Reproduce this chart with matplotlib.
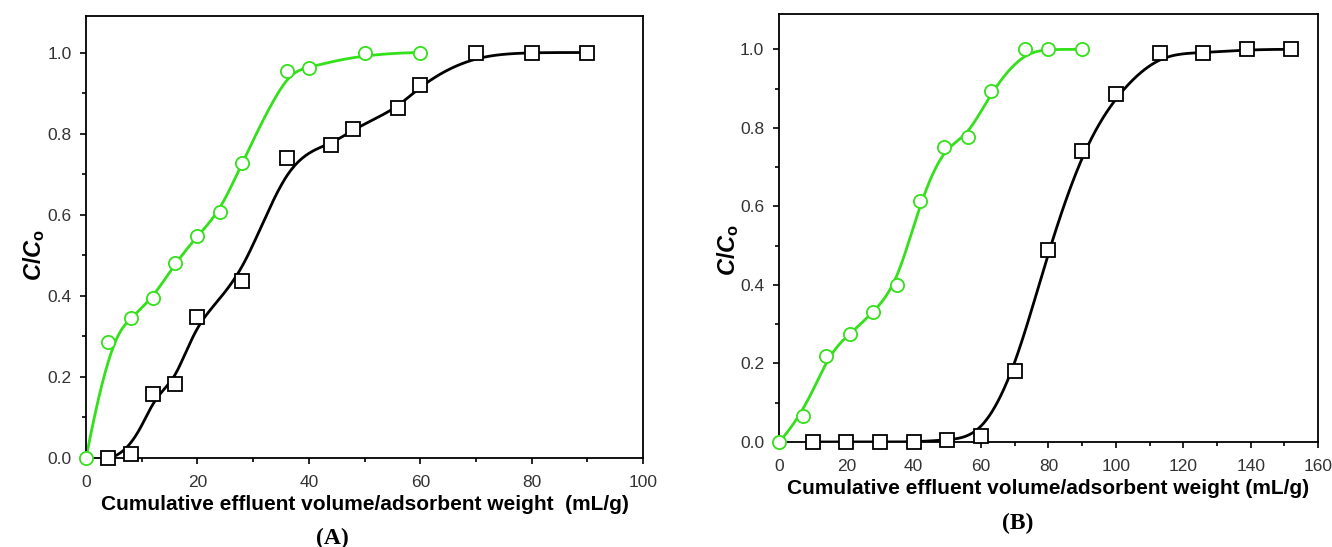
import numpy as np
import matplotlib.pyplot as plt
from matplotlib.ticker import MultipleLocator

# panel A
a_green_x = [0, 4, 8, 12, 16, 20, 24, 28, 36, 40, 50, 60]
a_green_y = [0.0, 0.285, 0.345, 0.395, 0.48, 0.548, 0.607, 0.727, 0.955, 0.962, 0.998, 1.0]
a_black_x = [4, 8, 12, 16, 20, 28, 36, 44, 48, 56, 60, 70, 80, 90]
a_black_y = [0.0, 0.01, 0.157, 0.183, 0.347, 0.437, 0.74, 0.772, 0.812, 0.862, 0.92, 1.0, 1.0, 1.0]

# panel B
b_green_x = [0, 7, 14, 21, 28, 35, 42, 49, 56, 63, 73, 80, 90]
b_green_y = [0.0, 0.065, 0.22, 0.275, 0.33, 0.40, 0.615, 0.752, 0.776, 0.893, 1.0, 1.0, 1.0]
b_black_x = [10, 20, 30, 40, 50, 60, 70, 80, 90, 100, 113, 126, 139, 152]
b_black_y = [0.0, 0.0, 0.0, 0.0, 0.005, 0.015, 0.18, 0.49, 0.74, 0.885, 0.99, 0.99, 1.0, 1.0]

xlabel_a = "Cumulative effluent volume/adsorbent weight  (mL/g)"
xlabel_b = "Cumulative effluent volume/adsorbent weight (mL/g)"
ylabel = r"$C/C_\mathrm{o}$"

GREEN = "#33e01a"
plt.rcParams["font.family"] = ["Liberation Sans", "DejaVu Sans"]
plt.rcParams["mathtext.fontset"] = "custom"
plt.rcParams["mathtext.it"] = "Liberation Sans:style=italic:weight=bold"
plt.rcParams["mathtext.rm"] = "Liberation Sans:weight=bold"
plt.rcParams["mathtext.bf"] = "Liberation Sans:weight=bold"


def bspline(xs, ys, n=400):
    # clamped cubic B-spline using the points as control points (like Origin's B-spline)
    P = np.column_stack([xs, ys]).astype(float)
    k = 3
    m = len(P)
    knots = np.concatenate([np.zeros(k), np.arange(m - k + 1), np.full(k, m - k)]).astype(float)
    t = np.linspace(0, m - k, n)
    t[-1] -= 1e-9
    N = np.zeros((n, len(knots) - 1))
    for i in range(len(knots) - 1):
        N[:, i] = (t >= knots[i]) & (t < knots[i + 1])
    for d in range(1, k + 1):
        Nn = np.zeros((n, len(knots) - 1 - d))
        for i in range(len(knots) - 1 - d):
            a = knots[i + d] - knots[i]
            b = knots[i + d + 1] - knots[i + 1]
            left = (t - knots[i]) / a * N[:, i] if a > 0 else 0
            right = (knots[i + d + 1] - t) / b * N[:, i + 1] if b > 0 else 0
            Nn[:, i] = left + right
        N = Nn
    C = N @ P
    return C[:, 0], C[:, 1]


def style(ax, xmax, ylab_y):
    ax.set_xlim(0, xmax)
    ax.set_ylim(0, 1.09)
    ax.xaxis.set_major_locator(MultipleLocator(20))
    ax.xaxis.set_minor_locator(MultipleLocator(10))
    ax.yaxis.set_major_locator(MultipleLocator(0.2))
    ax.yaxis.set_minor_locator(MultipleLocator(0.1))
    ax.yaxis.set_major_formatter(plt.FormatStrFormatter("%.1f"))
    ax.tick_params(which="both", direction="out", top=False, right=False,
                   labelsize=12.5, labelcolor="#333333", width=1.2)
    ax.tick_params(which="major", length=4.5)
    ax.tick_params(which="minor", length=3)
    ax.tick_params(axis="x", which="major", pad=8)
    ax.tick_params(axis="y", which="major", pad=6)
    for s in ax.spines.values():
        s.set_linewidth(1.3)
    ax.set_ylabel(ylabel, fontsize=17)
    ax.yaxis.set_label_coords(-0.07, ylab_y)


def panel(ax, gx, gy, kx, ky):
    cx, cy = bspline(gx, gy)
    ax.plot(cx, cy, color=GREEN, lw=2)
    cx, cy = bspline(kx, ky)
    ax.plot(cx, cy, color="black", lw=2)
    ax.plot(gx, gy, "o", ms=9.5, mfc="white", mec=GREEN, mew=1.3, clip_on=False, zorder=3)
    ax.plot(kx, ky, "s", ms=9.5, mfc="white", mec="black", mew=1.3, clip_on=False, zorder=3)


fig = plt.figure(figsize=(13.32, 5.47), dpi=100)
ax1 = fig.add_axes([0.0646, 0.1627, 0.4182, 0.808])
ax2 = fig.add_axes([0.5848, 0.1920, 0.4047, 0.7824])

panel(ax1, a_green_x, a_green_y, a_black_x, a_black_y)
style(ax1, 100, 0.46)
ax1.set_xlabel(xlabel_a, fontsize=15, fontweight="bold", labelpad=3)

panel(ax2, b_green_x, b_green_y, b_black_x, b_black_y)
style(ax2, 160, 0.449)
ax2.set_xlabel(xlabel_b, fontsize=15, fontweight="bold", labelpad=3)

fig.text(332 / 1332, 1 - 538 / 547, "(A)", ha="center", va="center",
         fontsize=17, fontweight="bold", family="Liberation Serif")
fig.text(1018 / 1332, 1 - 523 / 547, "(B)", ha="center", va="center",
         fontsize=17, fontweight="bold", family="Liberation Serif")

fig.savefig("out.png", dpi=100)
